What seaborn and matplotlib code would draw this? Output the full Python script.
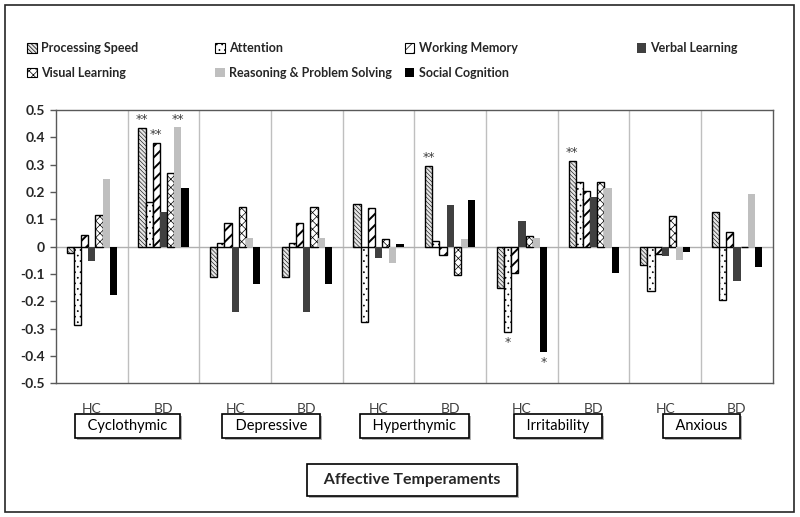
import numpy as np
import pandas as pd
import matplotlib.pyplot as plt
import matplotlib.patheffects as pe
import seaborn as sns
from matplotlib.patches import Patch, Rectangle
from matplotlib.transforms import blended_transform_factory

# ---------------------------
# Data
# ---------------------------

temperaments = ["Cyclothymic", "Depressive", "Hyperthymic", "Irritability", "Anxious"]
groups = ["HC", "BD"]
domains = ["Processing Speed", "Attention", "Working Memory", "Verbal Learning",
           "Visual Learning", "Reasoning & Problem Solving", "Social Cognition"]

# 10 values per domain: HC, BD for each temperament
processing_speed = [-0.025, 0.434, -0.110, -0.110, 0.156, 0.297, -0.153, 0.314, -0.068, 0.126]
attention = [-0.287, 0.165, 0.013, 0.013, -0.277, 0.021, -0.314, 0.237, -0.164, -0.197]
working_memory = [0.043, 0.381, 0.085, 0.085, 0.140, -0.032, -0.098, 0.203, -0.026, 0.053]
verbal_learning = [-0.052, 0.126, -0.241, -0.241, -0.043, 0.153, 0.093, 0.183, -0.035, -0.126]
visual_learning = [0.114, 0.271, 0.144, 0.144, 0.028, -0.104, 0.038, 0.237, 0.111, 0.0]
reasoning = [0.247, 0.437, 0.030, 0.030, -0.061, 0.027, 0.033, 0.214, -0.048, 0.192]
social_cognition = [-0.177, 0.214, -0.137, -0.137, 0.010, 0.172, -0.387, -0.095, -0.018, -0.076]

# significance marks: (cell index, domain index, mark)
stars = [(1, 0, "**"), (1, 2, "**"), (1, 5, "**"), (5, 0, "**"),
         (6, 1, "*"), (6, 6, "*"), (7, 0, "**")]

cells = [f"{t} {g}" for t in temperaments for g in groups]
series = [processing_speed, attention, working_memory, verbal_learning,
          visual_learning, reasoning, social_cognition]

df = pd.DataFrame({
    "cell": np.tile(cells, len(domains)),
    "domain": np.repeat(domains, len(cells)),
    "value": np.concatenate(series),
})

# facecolor, hatch, edgecolor, hatch linewidth per domain
styles = [
    ("#e6e6e6", "\\\\\\\\\\\\\\\\", "black", 0.4),
    ("white", "...", "black", 0.5),
    ("white", "///", "black", 1.4),
    ("#404040", None, "#404040", 0),
    ("white", "xxxx", "black", 0.5),
    ("#bfbfbf", None, "#bfbfbf", 0),
    ("black", None, "black", 0),
]
palette = {d: s[0] for d, s in zip(domains, styles)}

# ---------------------------
# Plot
# ---------------------------

sns.set_style("white")
plt.rcParams['font.family'] = ['Lato', 'DejaVu Sans']
plt.rcParams['hatch.linewidth'] = 0.5

fig = plt.figure(figsize=(8, 5.17), dpi=100)
ax = fig.add_axes([0.07, 0.259, 0.896, 0.528])

sns.barplot(data=df, x="cell", y="value", hue="domain", order=cells,
            hue_order=domains, palette=palette, width=0.7, saturation=1,
            errorbar=None, legend=False, ax=ax, zorder=3)

for container, (fc, hatch, ec, hlw) in zip(ax.containers, styles):
    for bar in container:
        bar.set_facecolor(fc)
        bar.set_edgecolor(ec)
        bar.set_hatch(hatch)
        bar.set_linewidth(1.0 if hatch else 0)
        if hatch and hasattr(bar, "set_hatch_linewidth"):
            bar.set_hatch_linewidth(hlw)

# significance stars
for ci, di, mark in stars:
    bar = ax.containers[di][ci]
    x = bar.get_x() + bar.get_width() / 2
    h = bar.get_height()
    if h >= 0:
        ax.text(x, h + 0.006, mark, ha="center", va="bottom", fontsize=9,
                family="DejaVu Sans", color="#404040")
    else:
        ax.text(x, h - 0.012, mark, ha="center", va="top", fontsize=9,
                family="DejaVu Sans", color="#404040")

ax.set_xlim(-0.5, len(cells) - 0.5)
ax.set_ylim(-0.5, 0.5)
ax.set_yticks(np.round(np.arange(-0.5, 0.51, 0.1), 1))
ax.set_yticklabels(["0" if abs(v) < 1e-9 else f"{v:.1f}" for v in np.arange(-0.5, 0.51, 0.1)],
                   fontweight="bold", fontsize=10)
ax.set_xticks(range(len(cells)))
ax.set_xticklabels([g for t in temperaments for g in groups], fontsize=10, color="#404040")
ax.tick_params(axis="x", length=0, pad=14)
ax.tick_params(axis="y", left=True, length=4, width=1, color="#595959", pad=4)
ax.set_xlabel("")
ax.set_ylabel("")

for x in np.arange(0.5, len(cells) - 0.5, 1):
    ax.axvline(x, color="#bfbfbf", lw=1, zorder=1)
ax.axhline(0, color="#b0b0b0", lw=1, zorder=2)
for s in ax.spines.values():
    s.set_visible(True)
    s.set_color("#595959")
    s.set_linewidth(1)

# temperament boxes
trans = blended_transform_factory(ax.transData, ax.transAxes)
for i, t in enumerate(temperaments):
    txt = ax.text(2 * i + 0.5, -0.157, "  " + t + "  ", transform=trans, ha="center",
                  va="center", fontsize=10.5, color="black",
                  bbox=dict(boxstyle="square,pad=0.35", fc="white", ec="black", lw=1.2))
    txt.get_bbox_patch().set_path_effects(
        [pe.SimplePatchShadow(offset=(1.5, -1.5), shadow_rgbFace="gray", alpha=0.6), pe.Normal()])

title = fig.text(0.515, 0.072, "  Affective Temperaments  ", ha="center", va="center",
                 fontsize=11.5, fontweight="bold",
                 bbox=dict(boxstyle="square,pad=0.55", fc="white", ec="black", lw=1.2))
title.get_bbox_patch().set_path_effects(
    [pe.SimplePatchShadow(offset=(1.5, -1.5), shadow_rgbFace="gray", alpha=0.6), pe.Normal()])

# legend, laid out in four columns like the original
handles = [Patch(facecolor=fc, edgecolor=ec, hatch=h, lw=0.8 if h else 0, label=d)
           for d, (fc, h, ec, hlw) in zip(domains, styles)]
columns = [([0, 4], 0.034), ([1, 5], 0.269), ([2, 6], 0.506), ([3], 0.796)]
for idx, xpos in columns:
    fig.legend(handles=[handles[i] for i in idx], loc="upper left",
               bbox_to_anchor=(xpos, 0.918), frameon=False, borderpad=0,
               borderaxespad=0, handlelength=0.75, handleheight=0.75,
               handletextpad=0.35, labelspacing=1.0,
               prop={"weight": "bold", "size": 9})

# outer frame
fig.patches.append(Rectangle((0.006, 0.01), 0.986, 0.981, transform=fig.transFigure,
                             fill=False, ec="#262626", lw=1.2))

plt.savefig("out.png", dpi=100)
plt.close()
